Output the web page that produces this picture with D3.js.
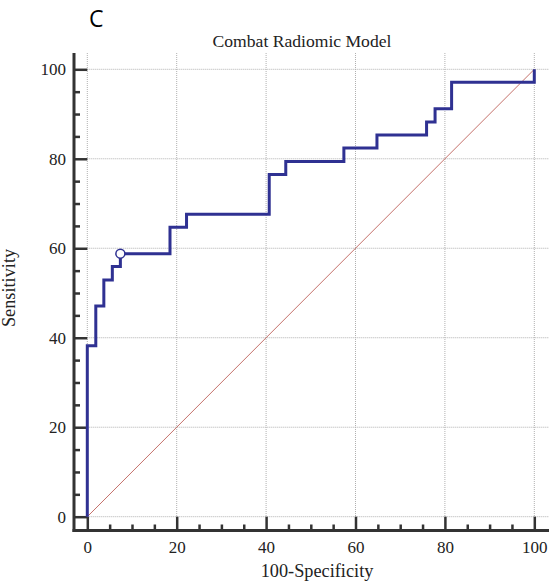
<!DOCTYPE html>
<html>
<head>
<meta charset="utf-8">
<script src="https://cdn.jsdelivr.net/npm/d3@7"></script>
<style>
  html, body { margin: 0; padding: 0; background: #fff; }
  svg { display: block; }
  .tick text { font-family: "Liberation Serif", "Times New Roman", serif; font-size: 17px; fill: #222; }
</style>
</head>
<body>
<svg id="chart" width="549" height="583"></svg>
<script>
// ROC curve coordinates (100-Specificity, Sensitivity), in percent
const fpr = [0, 0, 1.9, 3.7, 5.6, 7.4, 18.5, 22.2, 40.7, 44.4, 57.4, 64.8, 75.9, 77.8, 81.5, 100];
const tpr = [0, 38.2, 47.1, 52.9, 55.9, 58.8, 64.7, 67.6, 76.5, 79.4, 82.4, 85.3, 88.2, 91.2, 97.1, 100];
// Optimal cut-off (Youden index) marker
const cutoff = { fpr: 7.4, tpr: 58.8 };
// Axis tick values
const majorTicks = [0, 20, 40, 60, 80, 100];
const minorTicks = [5, 10, 15, 25, 30, 35, 45, 50, 55, 65, 70, 75, 85, 90, 95];

const svg = d3.select("#chart");
const W = 549, H = 583;

const x = d3.scaleLinear().domain([0, 100]).range([87.3, 534.3]);
const y = d3.scaleLinear().domain([0, 100]).range([516.7, 69.3]);

const axisX = 74, axisY = 530.5;
const gridTop = 53;

// Grid lines (dotted)
const grid = svg.append("g").attr("stroke", "#b0b0b0").attr("stroke-width", 1)
  .attr("stroke-dasharray", "1,1").attr("fill", "none");
grid.selectAll(".gh").data(majorTicks).join("line")
  .attr("x1", x(0)).attr("x2", W)
  .attr("y1", d => y(d)).attr("y2", d => y(d));
grid.selectAll(".gv").data(majorTicks).join("line")
  .attr("x1", d => x(d)).attr("x2", d => x(d))
  .attr("y1", gridTop).attr("y2", y(0));

// Reference diagonal
svg.append("line")
  .attr("x1", x(0)).attr("y1", y(0)).attr("x2", x(100)).attr("y2", y(100))
  .attr("stroke", "#c4706a").attr("stroke-width", 1);

// Y axis
const yAxisG = svg.append("g").attr("transform", `translate(${axisX},0)`);
yAxisG.call(d3.axisLeft(y).tickValues(majorTicks).tickSize(-(x(0) - axisX)).tickSizeOuter(0).tickPadding(8));
yAxisG.select(".domain").remove();
yAxisG.selectAll(".tick line").attr("stroke", "#333").attr("stroke-width", 2.5);
const yMinor = svg.append("g").attr("transform", `translate(${axisX},0)`);
yMinor.call(d3.axisLeft(y).tickValues(minorTicks).tickSize(-6).tickSizeOuter(0).tickFormat(""));
yMinor.select(".domain").remove();
yMinor.selectAll(".tick line").attr("stroke", "#333").attr("stroke-width", 2.5);

// X axis
const xAxisG = svg.append("g").attr("transform", `translate(0,${axisY})`);
xAxisG.call(d3.axisBottom(x).tickValues(majorTicks).tickSize(-(axisY - y(0))).tickSizeOuter(0).tickPadding(10));
xAxisG.select(".domain").remove();
xAxisG.selectAll(".tick line").attr("stroke", "#333").attr("stroke-width", 2.5);
const xMinor = svg.append("g").attr("transform", `translate(0,${axisY})`);
xMinor.call(d3.axisBottom(x).tickValues(minorTicks).tickSize(-6).tickSizeOuter(0).tickFormat(""));
xMinor.select(".domain").remove();
xMinor.selectAll(".tick line").attr("stroke", "#333").attr("stroke-width", 2.5);

// Axis lines
svg.append("line").attr("x1", axisX).attr("x2", axisX).attr("y1", gridTop).attr("y2", axisY + 1.5)
  .attr("stroke", "#333").attr("stroke-width", 3);
svg.append("line").attr("x1", axisX - 1.5).attr("x2", W).attr("y1", axisY).attr("y2", axisY)
  .attr("stroke", "#333").attr("stroke-width", 3);

// ROC step curve
const pts = fpr.map((f, i) => [f, tpr[i]]);
const line = d3.line().x(d => x(d[0])).y(d => y(d[1])).curve(d3.curveStepAfter);
svg.append("path").datum(pts).attr("d", line)
  .attr("fill", "none").attr("stroke", "#2f3192").attr("stroke-width", 3)
  .attr("stroke-linejoin", "miter");

// Cut-off marker
svg.append("circle").attr("cx", x(cutoff.fpr)).attr("cy", y(cutoff.tpr)).attr("r", 4.5)
  .attr("fill", "#fff").attr("stroke", "#2f3192").attr("stroke-width", 1.5);

// Titles
const serif = "'Liberation Serif', 'Times New Roman', serif";
svg.append("text").attr("x", 302).attr("y", 47).attr("text-anchor", "middle")
  .attr("font-family", serif).attr("font-size", 17.6).attr("fill", "#222")
  .text("Combat Radiomic Model");
svg.append("text").attr("x", 317).attr("y", 577).attr("text-anchor", "middle")
  .attr("font-family", serif).attr("font-size", 18.3).attr("fill", "#222")
  .text("100-Specificity");
svg.append("text").attr("transform", "translate(15,288) rotate(-90)").attr("text-anchor", "middle")
  .attr("font-family", serif).attr("font-size", 18.3).attr("fill", "#222")
  .text("Sensitivity");
svg.append("text").attr("x", 89).attr("y", 27)
  .attr("font-family", "'Open Sans', 'Noto Sans', sans-serif").attr("font-size", 23).attr("fill", "#000")
  .text("C");
</script>
</body>
</html>
